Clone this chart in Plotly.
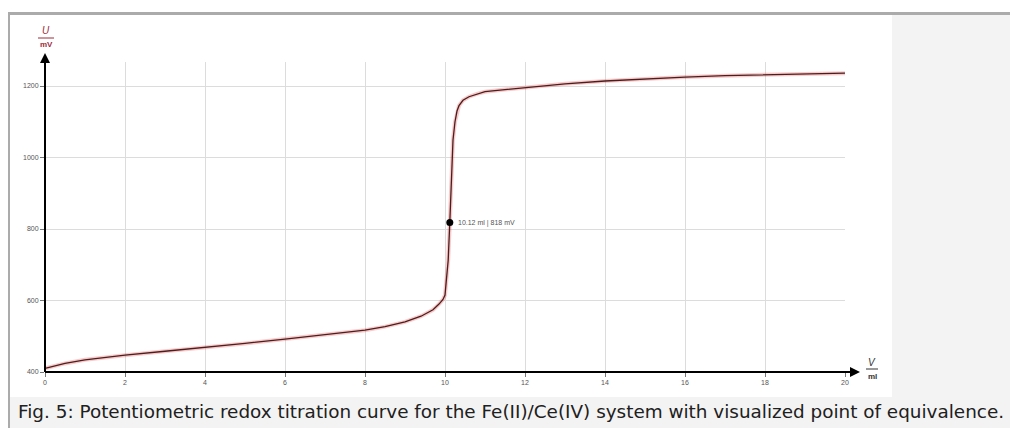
import plotly.graph_objects as go

# ---- data ----
volume_ml = [0, 0.25, 0.5, 1, 1.5, 2, 3, 4, 5, 6, 7, 8, 8.5, 9, 9.4, 9.7, 9.85, 9.95,
             10.0, 10.04, 10.08, 10.12, 10.15, 10.2, 10.25, 10.3, 10.35, 10.45, 10.6,
             10.8, 11, 11.5, 12, 13, 14, 15, 16, 17, 18, 19, 20]
potential_mv = [410, 418, 424, 434, 441, 447, 458, 468, 480, 492, 504, 517, 527, 540,
                556, 574, 590, 603, 615, 660, 713, 818, 909, 1049, 1100, 1130, 1145,
                1160, 1170, 1178, 1184, 1190, 1196, 1206, 1214, 1220, 1225, 1229, 1232,
                1234, 1236]
eq_point = (10.12, 818)
eq_label = "10.12 ml | 818 mV"
x_ticks = [0, 2, 4, 6, 8, 10, 12, 14, 16, 18, 20]
y_ticks = [400, 600, 800, 1000, 1200]
caption = ("Fig. 5: Potentiometric redox titration curve for the Fe(II)/Ce(IV) system "
           "with visualized point of equivalence.")

# ---- layout geometry (reference pixels; page body has an 8px margin) ----
OFF = 8
W_REF, H_REF = 1018, 428
L, R, T, B = 45, 845, 62, 372   # plot area in reference pixels


def px(xpix):
    return (xpix - L) / (R - L)


def py(ypix):
    return (B - ypix) / (B - T)


fig = go.Figure()

fig.add_trace(go.Scatter(x=volume_ml, y=potential_mv, mode="lines",
                         line=dict(color="rgba(225,70,70,0.28)", width=4),
                         hoverinfo="skip", showlegend=False))
fig.add_trace(go.Scatter(x=volume_ml, y=potential_mv, mode="lines",
                         line=dict(color="#4e1c1c", width=1.3),
                         showlegend=False))
fig.add_trace(go.Scatter(x=[eq_point[0]], y=[eq_point[1]], mode="markers",
                         marker=dict(color="black", size=7), showlegend=False))

shapes = []
shapes.append(dict(type="rect", xref="paper", yref="paper", layer="below",
                   x0=px(892), x1=px(1030), y0=py(398), y1=py(15),
                   fillcolor="#f3f3f3", line=dict(width=0)))
shapes.append(dict(type="rect", xref="paper", yref="paper", layer="below",
                   x0=px(9), x1=px(1030), y0=py(440), y1=py(397),
                   fillcolor="#f3f3f3", line=dict(width=0)))
shapes.append(dict(type="rect", xref="paper", yref="paper",
                   x0=px(7), x1=px(10), y0=py(440), y1=py(12),
                   fillcolor="#ababab", line=dict(width=0)))
shapes.append(dict(type="rect", xref="paper", yref="paper",
                   x0=px(7), x1=px(1030), y0=py(15), y1=py(12),
                   fillcolor="#ababab", line=dict(width=0)))
shapes.append(dict(type="line", xref="paper", yref="paper",
                   x0=0, x1=px(852), y0=0, y1=0, line=dict(color="black", width=2)))
shapes.append(dict(type="line", xref="paper", yref="paper",
                   x0=0, x1=0, y0=0, y1=py(62), line=dict(color="black", width=2)))
shapes.append(dict(type="line", xref="paper", yref="paper",
                   x0=px(38), x1=px(54), y0=py(38), y1=py(38),
                   line=dict(color="#9c2a3a", width=1)))
shapes.append(dict(type="line", xref="paper", yref="paper",
                   x0=px(866), x1=px(878), y0=py(369), y1=py(369),
                   line=dict(color="#333333", width=1)))


def lab(x, y, text, size, color, family="Liberation Sans", xa="center"):
    return dict(xref="paper", yref="paper", x=px(x), y=py(y), text=text,
                showarrow=False, xanchor=xa, yanchor="middle",
                font=dict(size=size, color=color, family=family))


annotations = [
    dict(xref="paper", yref="paper", x=px(860), y=0, ax=-14, ay=0, text="",
         showarrow=True, arrowhead=2, arrowsize=1, arrowwidth=2, arrowcolor="black"),
    dict(xref="paper", yref="paper", x=0, y=py(53), ax=0, ay=14, text="",
         showarrow=True, arrowhead=2, arrowsize=1, arrowwidth=2, arrowcolor="black"),
    lab(46, 31, "<i>U</i>", 10, "#9c2a3a"),
    lab(46, 45, "<b>mV</b>", 8, "#9c2a3a"),
    lab(872, 362, "<i>V</i>", 10, "#333333"),
    lab(872, 376, "<b>ml</b>", 8, "#333333"),
    dict(x=eq_point[0], y=eq_point[1], text=eq_label, showarrow=False,
         xanchor="left", yanchor="middle", xshift=6,
         font=dict(size=7, color="#555555", family="Liberation Sans")),
    lab(16, 411, caption, 18.4, "#202020", family="DejaVu Sans", xa="left"),
]

fig.update_layout(
    width=W_REF - OFF, height=H_REF - OFF,
    margin=dict(l=L - OFF, r=W_REF - R, t=T - OFF, b=H_REF - B, pad=0),
    paper_bgcolor="white", plot_bgcolor="white",
    shapes=shapes, annotations=annotations,
    showlegend=False,
    xaxis=dict(range=[0, 20], tickvals=x_ticks, ticktext=[str(v) for v in x_ticks],
               showgrid=True, gridcolor="#dcdcdc", gridwidth=1, zeroline=False,
               showline=False, ticks="outside", ticklen=4, tickcolor="#777777",
               tickfont=dict(size=7, color="#555555", family="Liberation Sans")),
    yaxis=dict(range=[400, 400 + (B - T) / 0.3575], tickvals=y_ticks,
               ticktext=[str(v) for v in y_ticks],
               showgrid=True, gridcolor="#dcdcdc", gridwidth=1, zeroline=False,
               showline=False, ticks="outside", ticklen=4, tickcolor="#777777",
               tickfont=dict(size=7, color="#555555", family="Liberation Sans")),
)

fig.write_html("out.html")
